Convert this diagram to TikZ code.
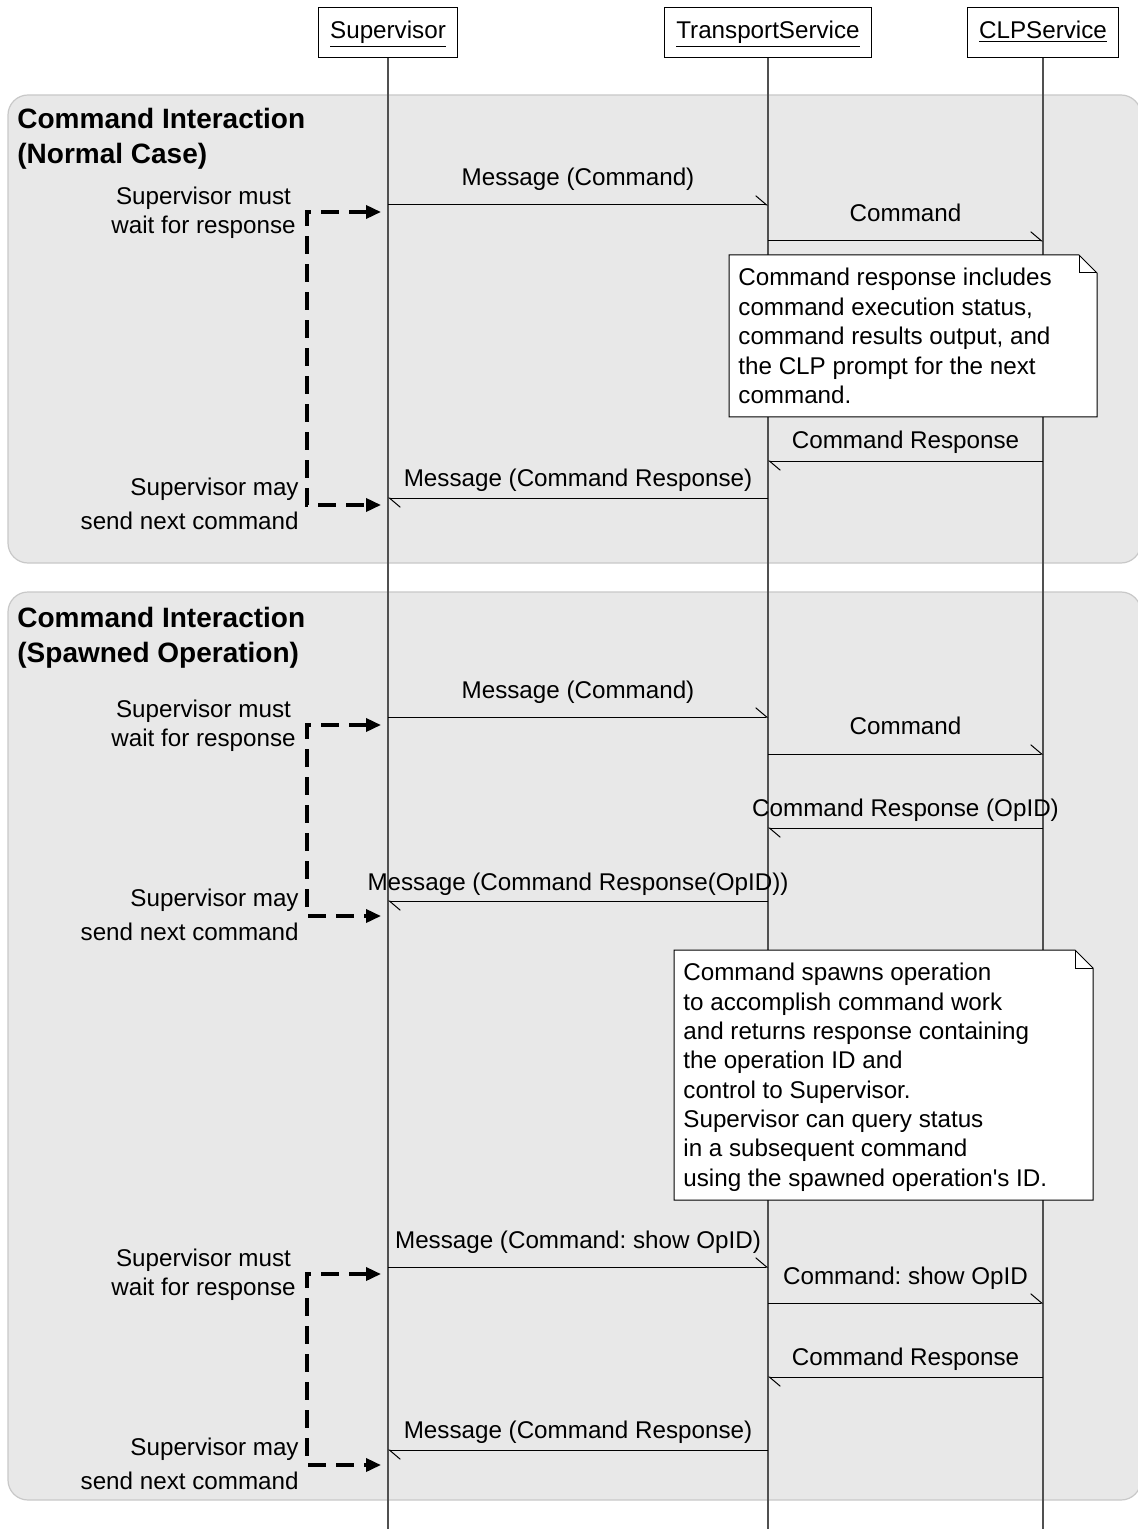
\documentclass[tikz,border=0pt]{standalone}
\usepackage{fontspec}
\setmainfont{Liberation Sans}[Ligatures=TeXOff]
\usetikzlibrary{arrows.meta}
\frenchspacing
\definecolor{lanefill}{HTML}{E8E8E8}
\definecolor{laneedge}{HTML}{C8C8C8}
\definecolor{lifegray}{HTML}{505050}
\tikzset{
  txt/.style={font=\fontsize{12.1pt}{14.75pt}\selectfont, inner sep=0pt},
  ttl/.style={font=\fontsize{14pt}{17.5pt}\selectfont\bfseries, inner sep=0pt, align=left, anchor=north west},
  lane/.style={fill=lanefill, draw=laneedge, line width=0.6pt, rounded corners=10pt},
  head/.style={draw=black, fill=white, line width=0.5pt, minimum height=25pt, inner xsep=6pt, inner ysep=0pt,
    text height=8.8pt, text depth=3.4pt, font=\fontsize{12.1pt}{14.75pt}\selectfont},
  lifeline/.style={draw=lifegray, line width=0.6pt},
  msg/.style={draw=black, line width=0.5pt, -{Straight Barb[harpoon, length=5.5pt, width=9.3pt]}},
  msglabel/.style={txt, anchor=base},
  waitarrow/.style={draw=black, line width=1.75pt, dash pattern=on 9pt off 5pt,
    {Triangle[length=7.5pt,width=6.5pt]}-{Triangle[length=7.5pt,width=6.5pt]}},
  notebox/.style={draw=black, fill=white, line width=0.5pt},
  waittxt/.style={txt, align=center, anchor=north, font=\fontsize{12.1pt}{14.5pt}\selectfont},
  maytxt/.style={txt, align=right, anchor=north east, font=\fontsize{12.1pt}{17pt}\selectfont},
  notetxt/.style={txt, align=left, anchor=north west},
}
\begin{document}
\begin{tikzpicture}[x=0.5pt,y=-0.5pt]
\useasboundingbox (0,0) rectangle (1138,1529);
\clip (0,0) rectangle (1138,1529);

% swimlane backgrounds
\draw[lane] (8,95) rectangle (1141,563);
\draw[lane] (8,592) rectangle (1141,1500);

% titles
\node[ttl] (t1) at (17,108) {Command Interaction\\(Normal Case)};
\node[ttl] (t2) at (17,607) {Command Interaction\\(Spawned Operation)};

% lifeline heads
\node[head] (sup) at (388,33) {\underline{Supervisor}};
\node[head] (tra) at (768,33) {\underline{TransportService}};
\node[head] (clp) at (1043,33) {\underline{CLPService}};

% lifelines
\coordinate (bot) at (0,1530);
\draw[lifeline] (sup.south) -- (sup.south |- bot);
\draw[lifeline] (tra.south) -- (tra.south |- bot);
\draw[lifeline] (clp.south) -- (clp.south |- bot);

% ---------- Normal case ----------
\node[msglabel] (m1) at (578,186) {Message (Command)};
\draw[msg] (sup |- 0,205) -- (tra |- 0,205);
\node[msglabel] (m2) at (905.5,222) {Command};
\draw[msg] (tra |- 0,241) -- (clp |- 0,241);

\draw[notebox] (729,255) -- (1079,255) -- (1097,273) -- (1097,417) -- (729,417) -- cycle;
\draw[line width=0.5pt] (1079,255) -- (1079,273) -- (1097,273);
\node[notetxt] (note1) at (738,268) {Command response includes\\command execution status,\\command results output, and\\the CLP prompt for the next\\command.};

\node[msglabel] (m3) at (905.5,449) {Command Response};
\draw[msg] (clp |- 0,461) -- (tra |- 0,461);
\node[msglabel] (m4) at (578,486) {Message (Command Response)};
\draw[msg] (tra |- 0,498) -- (sup |- 0,498);

\node[waittxt] (w1) at (203.5,187) {Supervisor must\\wait for response};
\node[maytxt] (y1) at (299,478) {Supervisor may\\send next command};
\coordinate (w1a) at (381,212);
\coordinate (w1b) at (381,505);
\draw[waitarrow] (w1a) -- (307,212) -- (307,505) -- (w1b);

% ---------- Spawned operation ----------
\node[msglabel] (m5) at (578,698) {Message (Command)};
\draw[msg] (sup |- 0,717) -- (tra |- 0,717);
\node[msglabel] (m6) at (905.5,734) {Command};
\draw[msg] (tra |- 0,754) -- (clp |- 0,754);
\node[msglabel] (m7) at (905.5,816) {Command Response (OpID)};
\draw[msg] (clp |- 0,828) -- (tra |- 0,828);
\node[msglabel] (m8) at (578,890) {Message (Command Response(OpID))};
\draw[msg] (tra |- 0,901) -- (sup |- 0,901);

\node[waittxt] (w2) at (203.5,700) {Supervisor must\\wait for response};
\node[maytxt] (y2) at (299,889) {Supervisor may\\send next command};
\coordinate (w2a) at (381,725);
\coordinate (w2b) at (381,916);
\draw[waitarrow] (w2a) -- (307,725) -- (307,916) -- (w2b);

\draw[notebox] (674,950) -- (1075,950) -- (1093,968) -- (1093,1200) -- (674,1200) -- cycle;
\draw[line width=0.5pt] (1075,950) -- (1075,968) -- (1093,968);
\node[notetxt, font=\fontsize{12.1pt}{14.65pt}\selectfont] (note2) at (683,963) {Command spawns operation\\to accomplish command work\\and returns response containing\\the operation ID and\\control to Supervisor.\\Supervisor can query status\\in a subsequent command\\using the spawned operation's ID.};

\node[msglabel] (m9) at (578,1248) {Message (Command: show OpID)};
\draw[msg] (sup |- 0,1267) -- (tra |- 0,1267);
\node[msglabel] (m10) at (905.5,1284) {Command: show OpID};
\draw[msg] (tra |- 0,1303) -- (clp |- 0,1303);
\node[msglabel] (m11) at (905.5,1365) {Command Response};
\draw[msg] (clp |- 0,1377) -- (tra |- 0,1377);
\node[msglabel] (m12) at (578,1438) {Message (Command Response)};
\draw[msg] (tra |- 0,1450) -- (sup |- 0,1450);

\node[waittxt] (w3) at (203.5,1249) {Supervisor must\\wait for response};
\node[maytxt] (y3) at (299,1438) {Supervisor may\\send next command};
\coordinate (w3a) at (381,1274);
\coordinate (w3b) at (381,1465);
\draw[waitarrow] (w3a) -- (307,1274) -- (307,1465) -- (w3b);
\end{tikzpicture}
\end{document}
